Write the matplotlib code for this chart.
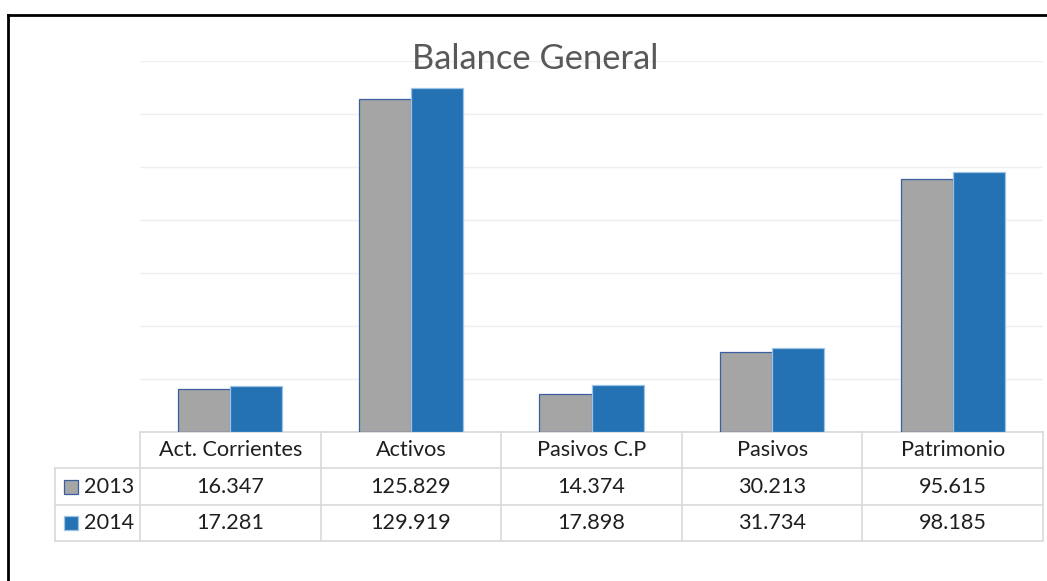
import numpy as np
import matplotlib.pyplot as plt
from matplotlib.lines import Line2D
import matplotlib.transforms as mtransforms

plt.rcParams['font.family'] = ['Lato', 'DejaVu Sans']

# datos
categorias = ['Act. Corrientes', 'Activos', 'Pasivos C.P', 'Pasivos', 'Patrimonio']
anios = ['2013', '2014']
v2013 = [16.347, 125.829, 14.374, 30.213, 95.615]
v2014 = [17.281, 129.919, 17.898, 31.734, 98.185]
etiquetas_2013 = ['16.347', '125.829', '14.374', '30.213', '95.615']
etiquetas_2014 = ['17.281', '129.919', '17.898', '31.734', '98.185']

gris = '#A5A5A5'
azul = '#2472B4'
c_tabla = '#D9D9D9'
c_texto = '#1F1F1F'

fig = plt.figure(figsize=(10.47, 5.81), dpi=100)
ax = fig.add_axes([140/1047, (581-432)/581, (1043-140)/1047, (432-61)/581])

x = np.arange(len(categorias))
w = 0.288
ax.bar(x - w/2, v2013, w, color=gris, edgecolor='#3A5FA0', linewidth=0.9, zorder=3)
ax.bar(x + w/2, v2014, w, color=azul, edgecolor='#9DC3E6', linewidth=0.9, zorder=3)

ax.set_xlim(-0.5, len(categorias) - 0.5)
ax.set_ylim(0, 140)
ax.set_yticks(np.arange(0, 141, 20))
ax.grid(axis='y', color='#EFEFEF', lw=1, zorder=0)
ax.set_xticks([])
ax.tick_params(left=False, labelleft=False)
for s in ax.spines.values():
    s.set_visible(False)

# tabla de datos
tr = mtransforms.blended_transform_factory(ax.transData, ax.transAxes)
filas = [0, -0.097, -0.197, -0.294]
x_ley = -0.5 - 85/180.6
kw = dict(color=c_tabla, lw=1.2, transform=tr, clip_on=False, zorder=2)
ax.plot([-0.5, len(categorias) - 0.5], [filas[0]]*2, **kw)
for yf in filas[1:]:
    ax.plot([x_ley, len(categorias) - 0.5], [yf]*2, **kw)
ax.plot([x_ley, x_ley], [filas[1], filas[3]], **kw)
for xb in np.arange(len(categorias) + 1) - 0.5:
    ax.plot([xb, xb], [filas[0], filas[3]], **kw)

fs = 15.6
for i, cat in enumerate(categorias):
    ax.text(i, (filas[0] + filas[1])/2, cat, transform=tr, ha='center', va='center',
            fontsize=fs, color=c_texto)
    ax.text(i, (filas[1] + filas[2])/2, etiquetas_2013[i], transform=tr, ha='center',
            va='center', fontsize=fs, color=c_texto)
    ax.text(i, (filas[2] + filas[3])/2, etiquetas_2014[i], transform=tr, ha='center',
            va='center', fontsize=fs, color=c_texto)

x_marca = -0.5 - (140 - 70.5)/180.6
x_anio = -0.5 - (140 - 84)/180.6
for k, (anio, col, ec) in enumerate(zip(anios, [gris, azul], ['#3A5FA0', '#9DC3E6'])):
    yc = (filas[k+1] + filas[k+2])/2
    ax.scatter([x_marca], [yc], s=105, marker='s', color=col, edgecolors=ec,
               linewidths=0.9, transform=tr, clip_on=False)
    ax.text(x_anio, yc, anio, transform=tr, ha='left', va='center',
            fontsize=fs, color=c_texto)

fig.text(535/1047, 1 - 59/581, 'Balance General', ha='center', va='center',
         fontsize=24.8, color='#595959')

# borde del gráfico
fig.add_artist(Line2D([7.5/1047, 7.5/1047], [0, 1 - 14.5/581], color='black', lw=2,
                      transform=fig.transFigure))
fig.add_artist(Line2D([7.5/1047, 1], [1 - 14.5/581, 1 - 14.5/581], color='black', lw=2,
                      transform=fig.transFigure))

fig.savefig('out.png', dpi=100)
